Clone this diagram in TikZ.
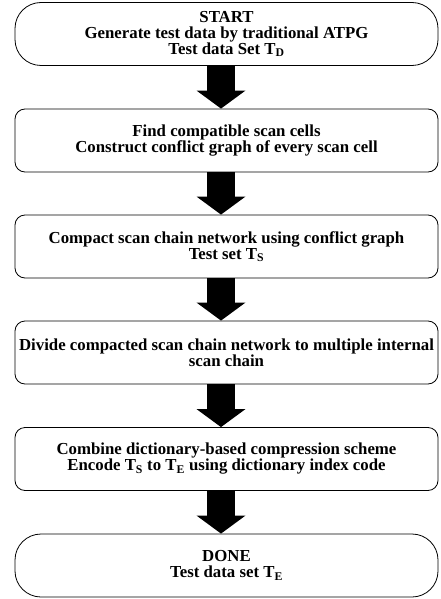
\documentclass[tikz,border=0pt]{standalone}
\usepackage{fontspec}
\setmainfont{Liberation Serif}
\usetikzlibrary{arrows.meta}

\newcommand{\Tsub}[1]{T\textsubscript{#1}}

\tikzset{
  stepbox/.style={draw, line width=0.8pt, rounded corners=10pt,
    minimum width=423pt, minimum height=63pt, inner sep=0pt,
    align=center, font=\fontsize{16.8}{16}\selectfont\bfseries},
  endbox/.style={stepbox, rounded corners=26pt},
  flow/.style={line width=28pt, -{Triangle[width=48pt,length=18pt]}}
}

\begin{document}
\begin{tikzpicture}
      \useasboundingbox (0,0) rectangle (440pt,-599pt);

      \node[endbox] (start) at (226.5pt,-34pt)
      {START\\
        Generate test data by traditional ATPG\\
        Test data Set \Tsub{D}};

      \node[stepbox] (find) at (226.5pt,-140.5pt)
      {Find compatible scan cells\\
        Construct conflict graph of every scan cell};

      \node[stepbox] (compact) at (226.5pt,-246.5pt)
      {Compact scan chain network using conflict graph\\
        Test set \Tsub{S}};

      \node[stepbox] (divide) at (226.5pt,-352.5pt)
      {Divide compacted scan chain network to multiple internal\\
        scan chain};

      \node[stepbox] (encode) at (226.5pt,-459pt)
      {Combine dictionary-based compression scheme\\
        Encode \Tsub{S} to \Tsub{E} using dictionary index code};

      \node[endbox] (done) at (226.5pt,-565.5pt)
      {DONE\\
        Test data set \Tsub{E}};

      \draw[flow] ([xshift=-5.5pt]start.south) -- ([xshift=-5.5pt]find.north);
      \draw[flow] ([xshift=-5.5pt]find.south) -- ([xshift=-5.5pt]compact.north);
      \draw[flow] ([xshift=-5.5pt]compact.south) -- ([xshift=-5.5pt]divide.north);
      \draw[flow] ([xshift=-5.5pt]divide.south) -- ([xshift=-5.5pt]encode.north);
      \draw[flow] ([xshift=-5.5pt]encode.south) -- ([xshift=-5.5pt]done.north);
    \end{tikzpicture}
\end{document}
